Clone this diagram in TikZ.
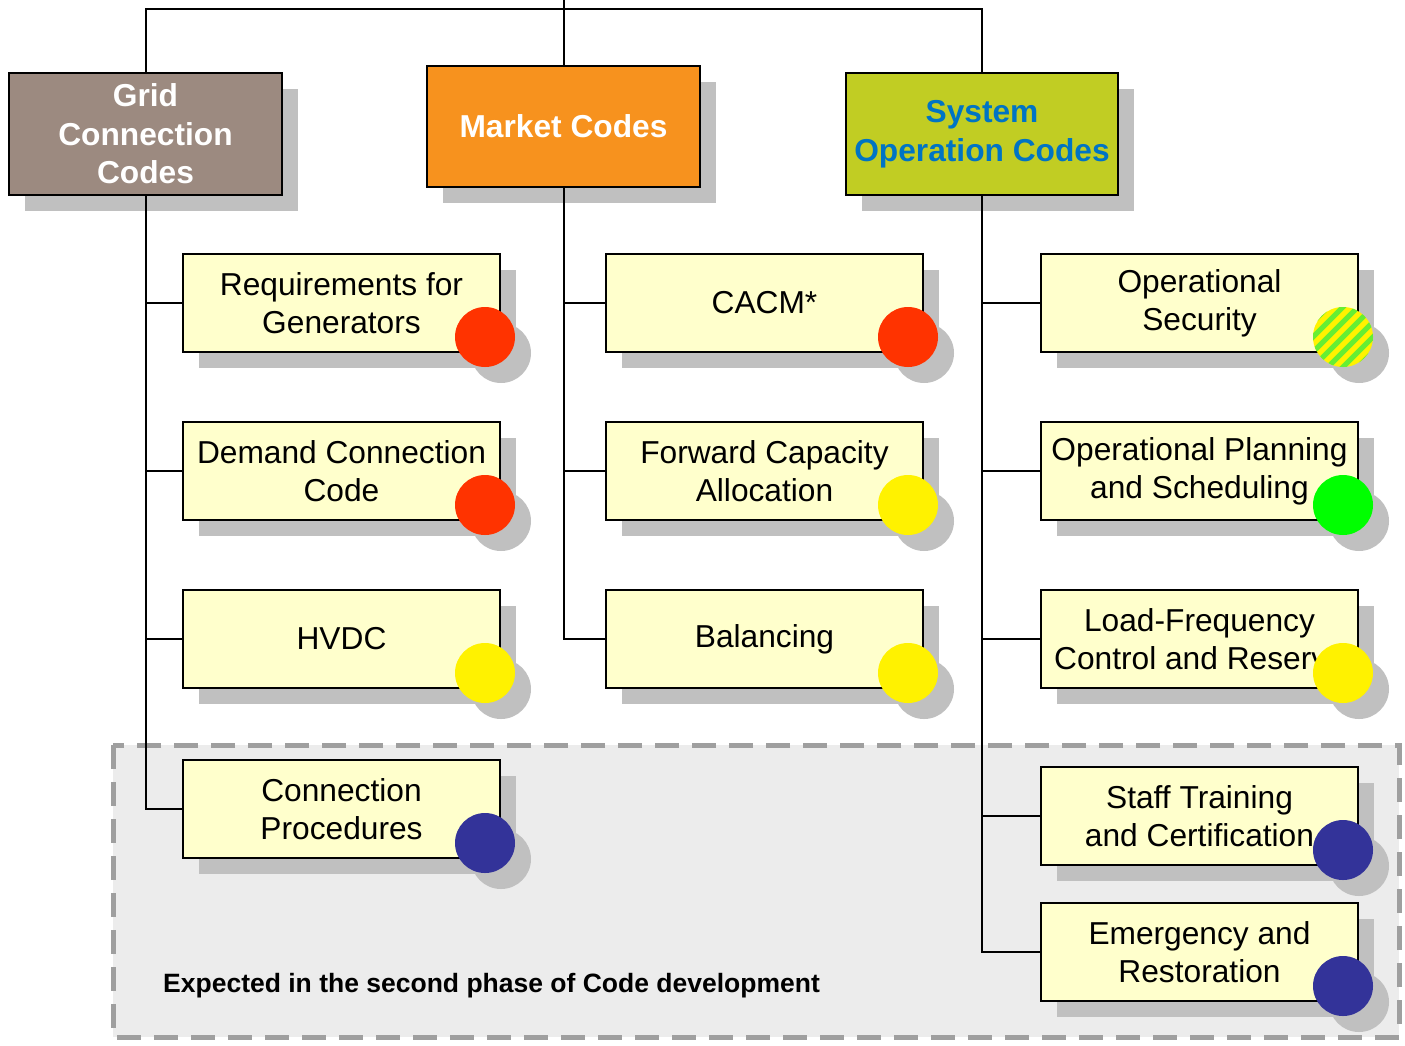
\documentclass[tikz,border=0pt]{standalone}
\usepackage{fontspec}
\setmainfont{Liberation Sans}
\usetikzlibrary{shadows}
\definecolor{gridc}{HTML}{9C8A80}
\definecolor{marketc}{HTML}{F7921E}
\definecolor{sysc}{HTML}{C1CD23}
\definecolor{systext}{HTML}{0074C4}
\definecolor{childc}{HTML}{FFFFCC}
\definecolor{shadowc}{HTML}{C0C0C0}
\definecolor{redc}{HTML}{FF3300}
\definecolor{bluec}{HTML}{333399}
\definecolor{hatchg}{HTML}{66EE33}
\begin{document}
\begin{tikzpicture}[x=1pt,y=-1pt,
  shad/.style={drop shadow={shadow xshift=16pt,shadow yshift=-16pt,fill=shadowc,opacity=1}},
  hdr/.style={draw=black,line width=2pt,minimum width=273pt,minimum height=122pt,inner sep=0pt,
    align=center,font=\bfseries\fontsize{31.7}{38.5}\selectfont,shad},
  child/.style={draw=black,line width=2pt,fill=childc,minimum width=317pt,minimum height=98pt,
    inner sep=0pt,align=center,font=\fontsize{31.7}{38}\selectfont,shad},
  dot/.style={circle,minimum size=60pt,inner sep=0pt,shad},
  conn/.style={draw=black,line width=2pt},
  region/.style={draw=gray!75,fill=gray!15,line width=5pt,dash pattern=on 24pt off 13pt}]
\useasboundingbox (0,0) rectangle (1405,1045);

% second phase region
\draw[region] (113,745) rectangle (1399,1037);
\node[font=\bfseries\fontsize{26.5}{30}\selectfont,anchor=west,inner sep=0pt] (note) at (163,986)
  {Expected in the second phase of Code development};

% headers
\node[hdr,fill=gridc,text=white] (grid) at (145.5,134) {Grid\\Connection\\Codes};
\node[hdr,fill=marketc,text=white,minimum height=121pt] (market) at (563.5,126.5) {Market Codes};
\node[hdr,fill=sysc,text=systext,minimum width=272pt] (sys) at (982,134) {System\\Operation Codes};

% grid connection children
\node[child] (req) at (341.5,303) {Requirements for\\Generators};
\node[child] (dcc) at (341.5,471) {Demand Connection\\Code};
\node[child] (hvdc) at (341.5,639) {HVDC};
\node[child] (cp) at (341.5,809) {Connection\\Procedures};

% market children
\node[child] (cacm) at (764.5,303) {CACM*};
\node[child] (fca) at (764.5,471) {Forward Capacity\\Allocation};
\node[child] (bal) at (764.5,639) {Balancing};

% system operation children
\node[child] (os) at (1199.5,303) {Operational\\Security};
\node[child] (ops) at (1199.5,471) {Operational Planning\\and Scheduling};
\node[child] (lfc) at (1199.5,639) {Load-Frequency\\Control and Reserve};
\node[child] (stc) at (1199.5,816) {Staff Training\\and Certification};
\node[child] (er) at (1199.5,952) {Emergency and\\Restoration};

% status dots
\node[dot,fill=redc] (d1) at (485,337) {};
\node[dot,fill=redc] (d2) at (485,505) {};
\node[dot,fill=yellow] (d3) at (485,673) {};
\node[dot,fill=bluec] (d4) at (485,843) {};
\node[dot,fill=redc] (d5) at (908,337) {};
\node[dot,fill=yellow] (d6) at (908,505) {};
\node[dot,fill=yellow] (d7) at (908,673) {};
\node[dot,fill=yellow,path picture={
  \foreach \i in {-6,...,6}{
    \draw[hatchg,line width=5pt] ([shift={(\i*15,0)}]path picture bounding box.center) ++(-45,45) -- ++(90,-90);
  }}] (d8) at (1343,337) {};
\node[dot,fill=green] (d9) at (1343,505) {};
\node[dot,fill=yellow] (d10) at (1343,673) {};
\node[dot,fill=bluec] (d11) at (1343,850) {};
\node[dot,fill=bluec] (d12) at (1343,986) {};

% top bus
\coordinate (top) at (563.5,0);
\coordinate (bus) at (563.5,9);
\draw[conn] (top) -- (market.north);
\draw[conn] (grid.north) |- (bus) -| (sys.north);

% trunks
\draw[conn] (grid.south) |- (req.west);
\draw[conn] (grid.south) |- (dcc.west);
\draw[conn] (grid.south) |- (hvdc.west);
\draw[conn] (grid.south) |- (cp.west);
\draw[conn] (market.south) |- (cacm.west);
\draw[conn] (market.south) |- (fca.west);
\draw[conn] (market.south) |- (bal.west);
\draw[conn] (sys.south) |- (os.west);
\draw[conn] (sys.south) |- (ops.west);
\draw[conn] (sys.south) |- (lfc.west);
\draw[conn] (sys.south) |- (stc.west);
\draw[conn] (sys.south) |- (er.west);
\end{tikzpicture}
\end{document}
